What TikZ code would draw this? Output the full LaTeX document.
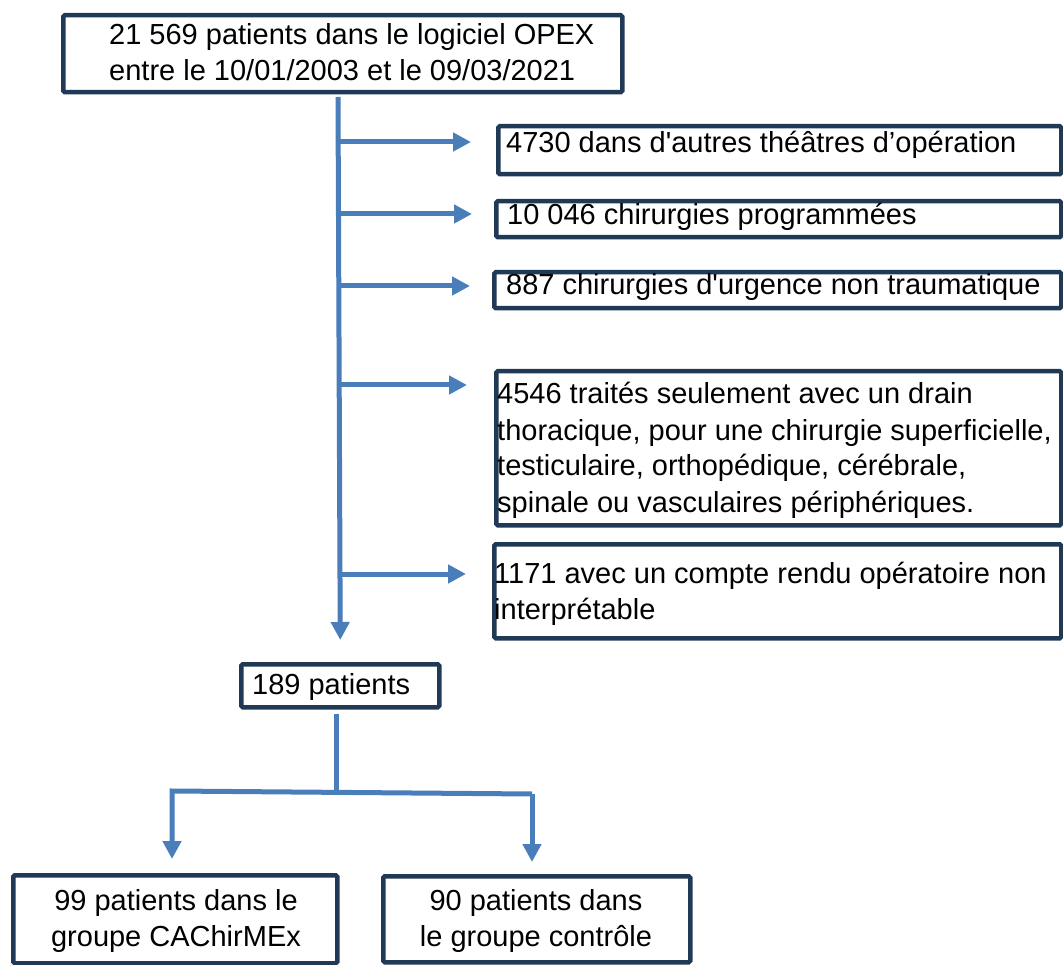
\documentclass[tikz,border=0pt]{standalone}
\usepackage{fontspec}
\setmainfont{Liberation Sans}[Ligatures=TeXOff]
\usetikzlibrary{arrows.meta}
\definecolor{boxc}{HTML}{203A56}
\definecolor{conc}{HTML}{4A7EBB}
\newcommand{\myctr}[1]{\hbox to 0pt{\hss #1\hss}}
\begin{document}
\begin{tikzpicture}[x=1pt,y=-1pt,
  box/.style={draw=boxc, line width=4.5pt, rounded corners=1.5pt, fill=white, inner sep=0pt, anchor=north west},
  txt/.style={inner sep=0pt, anchor=base west, font=\fontsize{29pt}{36pt}\selectfont, text=black},
  ctxt/.style={txt, anchor=base},
  conn/.style={draw=conc, line width=5pt},
  arr/.style={conn, -{Triangle[length=18pt,width=18pt]}},
]
\useasboundingbox (0,0) rectangle (1063,965);

% boxes
\node[box, minimum width=559pt, minimum height=77pt] (top) at (61,13) {};
\node[box, minimum width=563pt, minimum height=48pt] (b1) at (496,124) {};
\node[box, minimum width=565pt, minimum height=36pt] (b2) at (494,199) {};
\node[box, minimum width=567pt, minimum height=36pt] (b3) at (492,270) {};
\node[box, minimum width=565pt, minimum height=154pt] (b4) at (494,369) {};
\node[box, minimum width=567pt, minimum height=94pt] (b5) at (492,542) {};
\node[box, minimum width=198pt, minimum height=43pt] (p189) at (239,662) {};
\node[box, minimum width=324pt, minimum height=88pt] (g1) at (11,873) {};
\node[box, minimum width=307pt, minimum height=86pt] (g2) at (381,874) {};

% texts
\node[txt] (ttop) at (109,45) {\vtop{\hbox{21 569 patients dans le logiciel OPEX}\hbox{entre le 10/01/2003 et le 09/03/2021}}};
\node[txt] (tb1) at (506,153) {4730 dans d'autres théâtres d’opération};
\node[txt] (tb2) at (507,225) {10 046 chirurgies programmées};
\node[txt] (tb3) at (506,295) {887 chirurgies d'urgence non traumatique};
\node[txt] (tb4) at (497,404) {\vtop{\hbox{4546 traités seulement avec un drain}\hbox{thoracique, pour une chirurgie superficielle,}\hbox{testiculaire, orthopédique, cérébrale,}\hbox{spinale ou vasculaires périphériques.}}};
\node[txt] (tb5) at (494,583) {\vtop{\hbox{1171 avec un compte rendu opératoire non}\hbox{interprétable}}};
\node[txt] (tp189) at (252,694) {189 patients};
\node[ctxt] (tg1) at (176,910) {\vtop{\myctr{99 patients dans le}\myctr{groupe CAChirMEx}}};
\node[ctxt] (tg2) at (536,910) {\vtop{\myctr{90 patients dans}\myctr{le groupe contrôle}}};

% trunk and branches
\coordinate (t0) at (338,97);
\coordinate (j1) at (338,142);
\coordinate (j2) at (338,214);
\coordinate (j3) at (338,286);
\coordinate (j4) at (338,385);
\coordinate (j5) at (338,574);
\draw[arr] (t0) -- ([yshift=22pt]p189.north);
\draw[arr, shorten >=25pt] (j1) -- (j1 -| b1.west);
\draw[arr, shorten >=22pt] (j2) -- (j2 -| b2.west);
\draw[arr, shorten >=22pt] (j3) -- (j3 -| b3.west);
\draw[arr, shorten >=27pt] (j4) -- (j4 -| b4.west);
\draw[arr, shorten >=26pt] (j5) -- (j5 -| b5.west);

% split to the two groups
\coordinate (lc) at (172,791);
\coordinate (rc) at (532,794);
\coordinate (sp) at (336,792.5);
\draw[conn] ([yshift=-4pt]p189.south -| sp) -- (sp);
\draw[arr, shorten >=14pt] (rc) -- (lc) -- (lc |- g1.north);
\draw[arr, shorten >=12pt] (rc) -- (rc |- g2.north);
\end{tikzpicture}
\end{document}
